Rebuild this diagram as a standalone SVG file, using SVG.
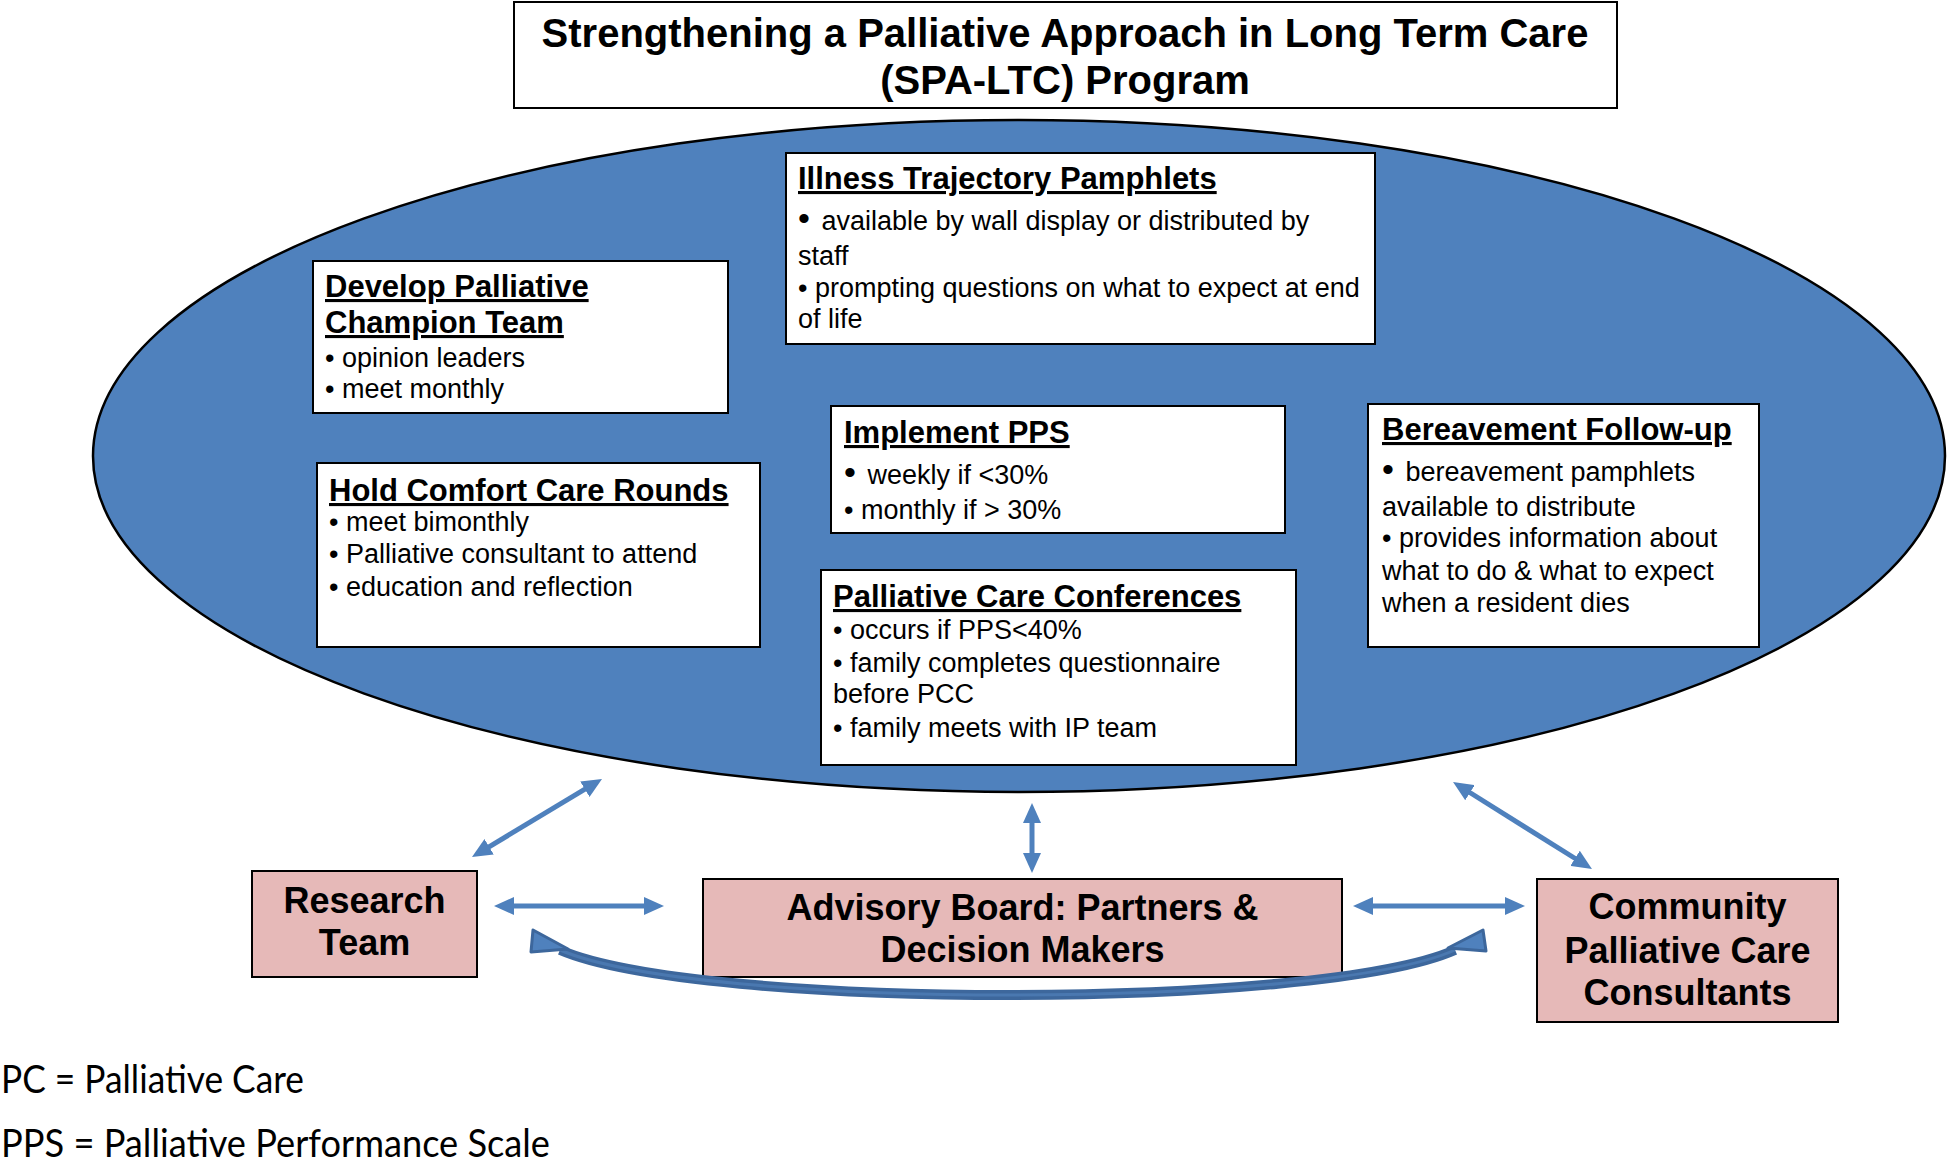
<svg xmlns="http://www.w3.org/2000/svg" width="1947" height="1167" viewBox="0 0 1947 1167">
<style>
  text { font-family: "Liberation Sans", Arial, sans-serif; fill: #000; }
  .hdr { font-size: 31px; font-weight: bold; text-decoration: underline; }
  .body { font-size: 27px; }
  .big { font-size: 34px; }
  .title { font-size: 40px; font-weight: bold; text-anchor: middle; }
  .pink { font-size: 36px; font-weight: bold; text-anchor: middle; }
  .foot { font-family: Lato, "Liberation Sans", sans-serif; font-size: 38px; }
  .wbox { fill: #ffffff; stroke: #000; stroke-width: 2; }
  .pbox { fill: #e6b9b8; stroke: #000; stroke-width: 2; }
  .arr { stroke: #4f81bd; stroke-width: 5; fill: none; marker-start: url(#ah); marker-end: url(#ah); }
</style>
<defs>
  <marker id="ah" viewBox="0 0 20 18" refX="4" refY="9" markerWidth="20" markerHeight="18" markerUnits="userSpaceOnUse" orient="auto-start-reverse">
    <path d="M0,0 L20,9 L0,18 z" fill="#4f81bd"/>
  </marker>
</defs>

<g id="title">
  <rect class="wbox" x="514" y="2" width="1103" height="106"/>
  <text class="title" x="1065" y="47">Strengthening a Palliative Approach in Long Term Care</text>
  <text class="title" x="1065" y="94">(SPA-LTC) Program</text>
</g>

<g id="program">
  <ellipse cx="1019" cy="456" rx="926" ry="336" fill="#4f81bd" stroke="#000" stroke-width="2.5"/>
</g>

<g id="illness">
  <rect class="wbox" x="786" y="153" width="589" height="191"/>
  <text class="hdr" x="798" y="189">Illness Trajectory Pamphlets</text>
  <text class="body" x="798" y="230"><tspan class="big">•</tspan><tspan dx="4"> available by wall display or distributed by</tspan></text>
  <text class="body" x="798" y="265">staff</text>
  <text class="body" x="798" y="297">• prompting questions on what to expect at end</text>
  <text class="body" x="798" y="328">of life</text>
</g>

<g id="champion">
  <rect class="wbox" x="313" y="261" width="415" height="152"/>
  <text class="hdr" x="325" y="297">Develop Palliative</text>
  <text class="hdr" x="325" y="333">Champion Team</text>
  <text class="body" x="325" y="367">• opinion leaders</text>
  <text class="body" x="325" y="398">• meet monthly</text>
</g>

<g id="rounds">
  <rect class="wbox" x="317" y="463" width="443" height="184"/>
  <text class="hdr" x="329" y="501">Hold Comfort Care Rounds</text>
  <text class="body" x="329" y="531">• meet bimonthly</text>
  <text class="body" x="329" y="563">• Palliative consultant to attend</text>
  <text class="body" x="329" y="596">• education and reflection</text>
</g>

<g id="pps">
  <rect class="wbox" x="831" y="406" width="454" height="127"/>
  <text class="hdr" x="844" y="443">Implement PPS</text>
  <text class="body" x="844" y="484"><tspan class="big">•</tspan><tspan dx="4"> weekly if &lt;30%</tspan></text>
  <text class="body" x="844" y="519">• monthly if &gt; 30%</text>
</g>

<g id="conferences">
  <rect class="wbox" x="821" y="570" width="475" height="195"/>
  <text class="hdr" x="833" y="607">Palliative Care Conferences</text>
  <text class="body" x="833" y="639">• occurs if PPS&lt;40%</text>
  <text class="body" x="833" y="672">• family completes questionnaire</text>
  <text class="body" x="833" y="703">before PCC</text>
  <text class="body" x="833" y="737">• family meets with IP team</text>
</g>

<g id="bereavement">
  <rect class="wbox" x="1368" y="404" width="391" height="243"/>
  <text class="hdr" x="1382" y="440">Bereavement Follow-up</text>
  <text class="body" x="1382" y="481"><tspan class="big">•</tspan><tspan dx="4"> bereavement pamphlets</tspan></text>
  <text class="body" x="1382" y="516">available to distribute</text>
  <text class="body" x="1382" y="547">• provides information about</text>
  <text class="body" x="1382" y="580">what to do &amp; what to expect</text>
  <text class="body" x="1382" y="612">when a resident dies</text>
</g>

<g id="research">
  <rect class="pbox" x="252" y="871" width="225" height="106"/>
  <text class="pink" x="364.5" y="913">Research</text>
  <text class="pink" x="364.5" y="955">Team</text>
</g>

<g id="advisory">
  <rect class="pbox" x="703" y="879" width="639" height="98"/>
  <text class="pink" x="1022.5" y="920">Advisory Board: Partners &amp;</text>
  <text class="pink" x="1022.5" y="962">Decision Makers</text>
</g>

<g id="community">
  <rect class="pbox" x="1537" y="879" width="301" height="143"/>
  <text class="pink" x="1687.5" y="919">Community</text>
  <text class="pink" x="1687.5" y="963">Palliative Care</text>
  <text class="pink" x="1687.5" y="1005">Consultants</text>
</g>

<g id="connectors">
  <line class="arr" x1="485.7" y1="848.8" x2="588.3" y2="787.2"/>
  <line class="arr" x1="510" y1="906" x2="648" y2="906"/>
  <line class="arr" x1="1032" y1="819" x2="1032" y2="857"/>
  <line class="arr" x1="1369" y1="906" x2="1509" y2="906"/>
  <line class="arr" x1="1466.6" y1="790.5" x2="1578.4" y2="860.5"/>
  <path d="M560,950 C700,1010 1320,1010 1455,950" fill="none" stroke="#3d679c" stroke-width="10"/>
  <path d="M560,950 C700,1010 1320,1010 1455,950" fill="none" stroke="#4a78b0" stroke-width="3"/>
  <polygon points="533,930 568,949 531,952" fill="#4f81bd" stroke="#3d679c" stroke-width="3" stroke-linejoin="round"/>
  <polygon points="1483,930 1486,951 1448,948" fill="#4f81bd" stroke="#3d679c" stroke-width="3" stroke-linejoin="round"/>
</g>

<g id="legend">
  <text class="foot" x="1" y="1093" textLength="303" lengthAdjust="spacingAndGlyphs">PC = Palliative Care</text>
  <text class="foot" x="1" y="1157" textLength="549" lengthAdjust="spacingAndGlyphs">PPS = Palliative Performance Scale</text>
</g>
</svg>
